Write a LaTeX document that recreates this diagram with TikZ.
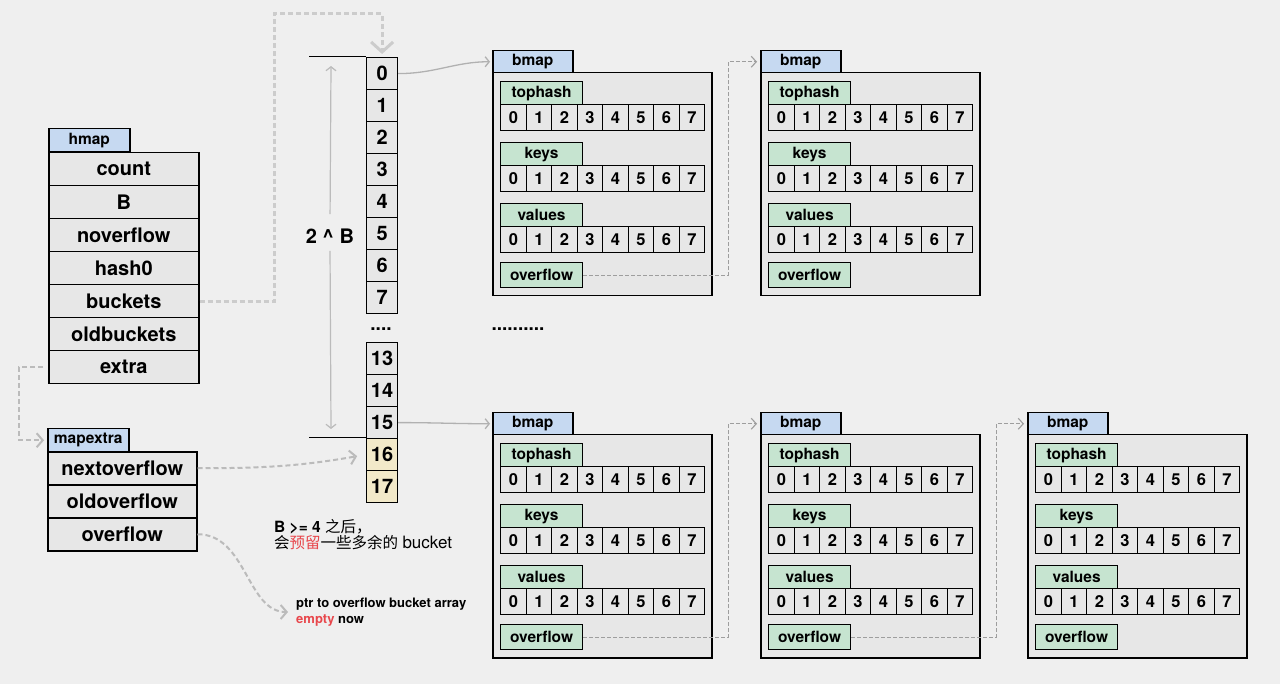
\documentclass[tikz,border=0pt]{standalone}
\usepackage{fontspec}
\setmainfont{TeX Gyre Heros}
\newfontfamily\cjk{Noto Sans CJK SC}
\usetikzlibrary{positioning,arrows.meta}

\definecolor{bggray}{HTML}{EFEFEF}
\definecolor{boxgray}{HTML}{E7E7E7}
\definecolor{tabblue}{HTML}{C6D9F1}
\definecolor{tabgreen}{HTML}{C6E4D0}
\definecolor{spare}{HTML}{F2E9C9}
\definecolor{linegray}{HTML}{BBBBBB}
\definecolor{chaingray}{HTML}{9E9E9E}
\definecolor{notered}{HTML}{E8474C}

\tikzset{
  field/.style={draw, fill=boxgray, line width=1.5pt, anchor=north west, inner sep=0pt,
    minimum width=150, minimum height=33, font=\bfseries\fontsize{20}{20}\selectfont},
  title/.style={draw, fill=tabblue, line width=1.5pt, anchor=north west, inner sep=0pt,
    minimum width=81, minimum height=23, font=\bfseries\fontsize{15.5}{15.5}\selectfont},
  bucket/.style={draw, fill=boxgray, line width=1.2pt, anchor=north west, inner sep=0pt,
    minimum width=31, minimum height=32, font=\bfseries\fontsize{20}{20}\selectfont},
  bbox/.style={draw, fill=boxgray, line width=1.5pt, anchor=north west, inner sep=0pt,
    minimum width=219, minimum height=223},
  sub/.style={draw, fill=tabgreen, line width=1.2pt, anchor=north west, inner sep=0pt,
    minimum width=82, minimum height=23, font=\bfseries\fontsize{15.5}{15.5}\selectfont},
  slot/.style={draw, fill=boxgray, line width=1.2pt, anchor=north west, inner sep=0pt,
    minimum width=25.5, minimum height=26, font=\bfseries\fontsize{16.5}{16.5}\selectfont},
  ptr/.style={linegray, line width=2pt, dash pattern=on 5pt off 3pt,
    -{Straight Barb[length=6pt,width=14pt]}},
  link/.style={chaingray!80, line width=1.3pt, -{Straight Barb[length=4pt,width=10pt]}},
  chain/.style={chaingray, line width=1.1pt, dash pattern=on 4pt off 2pt,
    -{Straight Barb[length=5pt,width=11pt]}},
  dim/.style={linegray, line width=1.2pt, -{Straight Barb[length=4pt,width=10pt]}}
}

% one bucket: name, x, y of its title
\newcommand{\bmapbox}[3]{%
  \node[bbox] (#1box) at (#2,#3+22) {};
  \node[title, minimum width=80, minimum height=22] (#1) at (#2,#3) {bmap};
  \node[sub] (#1th) at (#2+8,#3+31) {tophash};
  \node[sub] (#1k) at (#2+8,#3+92) {keys};
  \node[sub] (#1v) at (#2+8,#3+153) {values};
  \node[sub, minimum height=25] (#1of) at (#2+8,#3+212) {overflow};
  \foreach \i in {0,...,7} {
    \node[slot] (#1th\i) at (#2+8+\i*25.5,#3+54) {\i};
    \node[slot] (#1k\i) at (#2+8+\i*25.5,#3+115) {\i};
    \node[slot] (#1v\i) at (#2+8+\i*25.5,#3+176) {\i};
  }
}

\begin{document}
\begin{tikzpicture}[x=1pt, y=-1pt]

  \fill[bggray] (0,0) rectangle (1280,684);
  \useasboundingbox (0,0) rectangle (1280,684);

  % hmap
  \node[title] (hmap) at (48,128) {hmap};
  \node[field] (hcount) at (48,152) {count};
  \node[field] (hB) at (48,185) {B};
  \node[field] (hnover) at (48,218) {noverflow};
  \node[field] (hhash) at (48,251) {hash0};
  \node[field] (hbuckets) at (48,284) {buckets};
  \node[field] (holdb) at (48,317) {oldbuckets};
  \node[field] (hextra) at (48,350) {extra};

  % mapextra
  \node[title] (mextra) at (47,428) {mapextra};
  \node[field, minimum width=149] (mnext) at (47,451) {nextoverflow};
  \node[field, minimum width=149] (mold) at (47,484) {oldoverflow};
  \node[field, minimum width=149] (mover) at (47,517) {overflow};

  % bucket array
  \node[bucket] (k0) at (366,57) {0};
  \node[bucket] (k1) at (366,89) {1};
  \node[bucket] (k2) at (366,121) {2};
  \node[bucket] (k3) at (366,153) {3};
  \node[bucket] (k4) at (366,185) {4};
  \node[bucket] (k5) at (366,217) {5};
  \node[bucket] (k6) at (366,249) {6};
  \node[bucket] (k7) at (366,281) {7};
  \node[font=\bfseries\fontsize{19}{19}\selectfont] (gap) at (381,329) {....};
  \node[bucket] (k13) at (366,342) {13};
  \node[bucket] (k14) at (366,374) {14};
  \node[bucket] (k15) at (366,406) {15};
  \node[bucket, fill=spare] (k16) at (366,438) {16};
  \node[bucket, fill=spare] (k17) at (366,470) {17};

  % 2^B marks
  \coordinate (lt) at (309,57);
  \coordinate (lb) at (309,438);
  \coordinate (top) at (331,66);
  \coordinate (bot) at (331,429);
  \draw[line width=1pt] (lt) -- (k0.north west);
  \draw[line width=1pt] (lb) -- (k16.north west);
  \node[font=\bfseries\fontsize{20}{20}\selectfont] (pow) at (330,236) {2 \textasciicircum{} B};
  \draw[dim, shorten <=11pt] (pow.north) -- (top);
  \draw[dim, shorten <=4pt] (pow.south) -- (bot);

  % buckets
  \bmapbox{b00}{492}{50}
  \bmapbox{b01}{760}{50}
  \bmapbox{b10}{492}{412}
  \bmapbox{b11}{760}{412}
  \bmapbox{b12}{1027}{412}
  \node[font=\bfseries\fontsize{19}{19}\selectfont] (more) at (518,329) {..........};

  % notes
  \node[anchor=west, align=left, inner sep=0pt, font=\fontsize{15.5}{16}\selectfont] (note) at (274,535)
    {\textbf{B >= 4} {\cjk 之后，}\\{\cjk 会}{\cjk\color{notered}预留}{\cjk 一些多余的} {\fontsize{17}{16}\selectfont bucket}};
  \node[anchor=west, align=left, inner sep=0pt, font=\bfseries\fontsize{13}{16}\selectfont] (empty) at (296,612)
    {ptr to overflow bucket array\\\textcolor{notered}{empty} now};

  % pointers
  \coordinate (up) at (274,14);
  \draw[ptr, line width=3pt, color=linegray!75, shorten >=3pt,
    -{Straight Barb[length=10pt,width=22pt]}] (hbuckets.east) -| (up) -| (k0.north);
  \draw[ptr, shorten >=3pt] ([xshift=-5pt]hextra.west) -- ++(-24,0) |- (mextra.west);
  \draw[ptr, shorten >=9pt] (mnext.east) to[out=0,in=190] (k16.west);
  \draw[ptr, shorten >=8pt] (mover.east) to[out=0,in=180] (empty.west);
  \draw[link, shorten >=2pt] (k0.east) to[out=0,in=180] (b00.west);
  \draw[link, shorten >=2pt] (k15.east) to[out=0,in=180] (b10.west);

  % overflow chain
  \draw[chain, shorten >=3pt] (b00of.east) -- ++(145,0) |- (b01.west);
  \draw[chain, shorten >=3pt] (b10of.east) -- ++(145,0) |- (b11.west);
  \draw[chain, shorten >=3pt] (b11of.east) -- ++(145,0) |- (b12.west);

\end{tikzpicture}
\end{document}
